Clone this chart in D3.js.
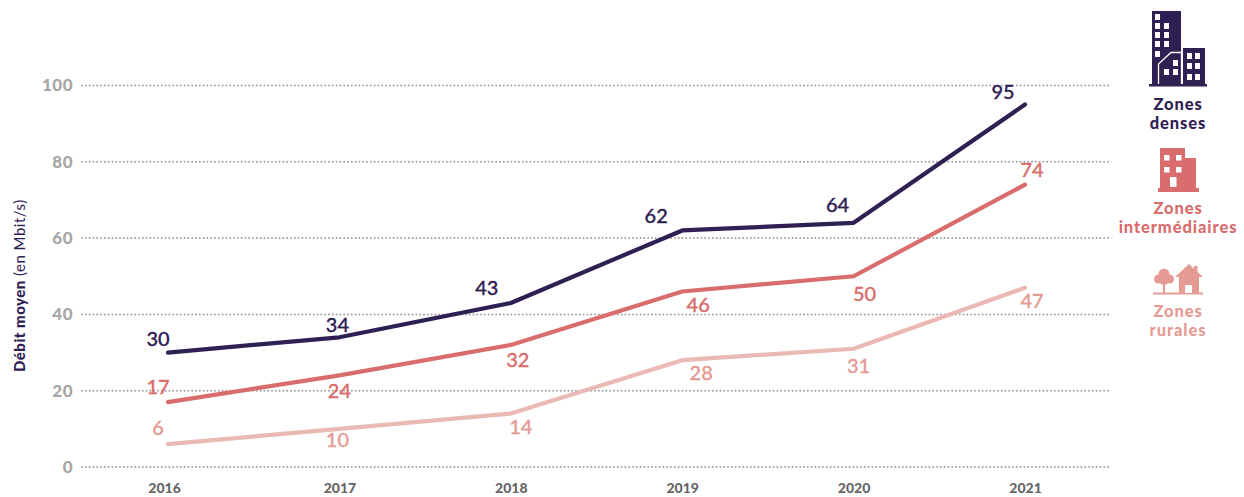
<!DOCTYPE html>
<html>
<head>
<meta charset="utf-8">
<script src="https://cdn.jsdelivr.net/npm/d3@7"></script>
<style>
  body { margin: 0; background: #fff; }
  svg { display: block; }
  text { font-family: Lato, sans-serif; }
</style>
</head>
<body>
<div class="chart"></div>
<script>
const years = [2016, 2017, 2018, 2019, 2020, 2021];
const yTicks = [0, 20, 40, 60, 80, 100];
const denses = [30, 34, 43, 62, 64, 95];
const intermediaires = [17, 24, 32, 46, 50, 74];
const rurales = [6, 10, 14, 28, 31, 47];

const dark = '#2f2053', red = '#d96c6c', pink = '#ebb9b3', pinkText = '#e59b94', grey = '#a6a6a6';

// label offsets from the line point, one per year
const denseOffsets = [[-10, -14.5], [-2, -13.5], [-24, -15.5], [-26, -15.5], [-16, -18.5], [-22, -13.5]];
const interOffsets = [[-10, -16.5], [0, 14.5], [7, 14.5], [16, 12.5], [11, 16.5], [7, -15.5]];
const ruralOffsets = [[-10, -17.5], [-2, 10.5], [10, 12.5], [19, 11.5], [5, 16.5], [7, 12.5]];

const width = 1244, height = 497;
let svg = d3.select('.chart')
    .append('svg')
        .attr('width', width)
        .attr('height', height);

let xScale = d3.scalePoint().domain(years).range([168, 1025]);
let yScale = d3.scaleLinear().domain([0, 100]).range([467, 85.5]);

// grid
svg.selectAll('.grid')
    .data(yTicks)
    .enter().append('line')
        .attr('x1', 82)
        .attr('x2', 1111)
        .attr('y1', d => yScale(d))
        .attr('y2', d => yScale(d))
        .style('stroke', '#a0a0a0')
        .style('stroke-width', 2)
        .style('stroke-linecap', 'round')
        .style('stroke-dasharray', '0 3.8');

// axes
let yAxis = d3.axisLeft(yScale).tickValues(yTicks).tickSize(0).tickPadding(0);
svg.append('g')
    .attr('transform', 'translate(73, 0)')
    .call(yAxis)
    .call(g => g.select('.domain').remove())
    .selectAll('text')
        .style('font-family', 'Lato')
        .style('font-size', '17px')
        .style('font-weight', 900)
        .style('fill', grey)
        .style('letter-spacing', '0.5px');

let xAxis = d3.axisBottom(xScale).tickFormat(d3.format('d')).tickSize(0).tickPadding(0);
svg.append('g')
    .attr('transform', 'translate(0, 483)')
    .call(xAxis)
    .call(g => g.select('.domain').remove())
    .selectAll('text')
        .attr('dx', d => d === 2016 ? -4 : 0)
        .style('font-family', 'Lato')
        .style('font-size', '14px')
        .style('font-weight', 900)
        .style('fill', '#666666');

// y title
let yTitle = svg.append('text')
    .attr('transform', 'translate(25, 372) rotate(-90)')
    .style('font-size', '15px')
    .style('letter-spacing', '0.5px')
    .style('fill', dark);
yTitle.append('tspan').style('font-weight', 900).text('Débit moyen ');
yTitle.append('tspan').text('(en Mbit/s)');

// lines and labels
let line = d3.line()
    .x((d, i) => xScale(years[i]))
    .y(d => yScale(d));

function drawSeries(values, offsets, color, labelColor) {
    svg.append('path')
        .datum(values)
        .attr('d', line)
        .style('fill', 'none')
        .style('stroke', color)
        .style('stroke-width', 4.2)
        .style('stroke-linecap', 'round')
        .style('stroke-linejoin', 'round');
    svg.selectAll(null)
        .data(values)
        .enter().append('text')
            .attr('x', (d, i) => xScale(years[i]) + offsets[i][0])
            .attr('y', (d, i) => yScale(d) + offsets[i][1])
            .attr('text-anchor', 'middle')
            .attr('dominant-baseline', 'central')
            .style('font-size', '20px')
            .style('font-weight', 500)
            .style('fill', labelColor)
            .style('stroke', labelColor)
            .style('stroke-width', 0.3)
            .text(d => d);
}
drawSeries(rurales, ruralOffsets, pink, pinkText);
drawSeries(intermediaires, interOffsets, red, red);
drawSeries(denses, denseOffsets, dark, dark);

// legend text
function legendText(lines, cx, y0, color) {
    lines.forEach((t, i) => {
        svg.append('text')
            .attr('x', cx)
            .attr('y', y0 + i * 19)
            .attr('text-anchor', 'middle')
            .style('font-size', '16.5px')
            .style('font-weight', 900)
            .style('letter-spacing', '0.9px')
            .style('fill', color)
            .text(t);
    });
}
legendText(['Zones', 'denses'], 1178, 110, dark);
legendText(['Zones', 'intermédiaires'], 1178, 214, red);
legendText(['Zones', 'rurales'], 1178, 317, pinkText);

function rects(g, list, fill) {
    g.selectAll(null).data(list).enter().append('rect')
        .attr('x', d => d[0]).attr('y', d => d[1])
        .attr('width', d => d[2]).attr('height', d => d[3])
        .style('fill', fill);
}

// dense icon
let denseIcon = svg.append('g');
rects(denseIcon, [[1152, 11, 29, 73], [1183, 48, 22, 36], [1149, 84, 58, 2.5]], dark);
rects(denseIcon, [
    [1155, 14, 5, 6], [1155, 23, 5, 6], [1155, 32, 5, 6], [1155, 41, 5, 6], [1155, 51, 5, 6],
    [1164, 23, 5, 6], [1164, 32, 5, 6], [1164, 41, 5, 6],
    [1173, 60, 5, 6], [1173, 69, 5, 6], [1164, 69, 5, 6],
    [1187, 53, 5, 6], [1195, 53, 5, 6], [1187, 63, 5, 6], [1195, 63, 5, 6], [1187, 74, 5, 6], [1195, 74, 5, 6]
], '#fff');
denseIcon.append('path')
    .attr('d', 'M1158.5 84V64L1171 52.5H1181.5V84')
    .style('fill', 'none')
    .style('stroke', '#fff')
    .style('stroke-width', 1.3);

// intermediate icon
let interIcon = svg.append('g');
rects(interIcon, [[1160, 148, 25, 42], [1185, 158, 11, 32], [1158, 188, 41, 4]], red);
rects(interIcon, [
    [1164, 155, 5.5, 5.5], [1176, 155, 5.5, 5.5], [1164, 167, 5.5, 5.5], [1176, 167, 5.5, 5.5], [1170, 177, 6.5, 10]
], '#fff');

// rural icon
let ruralIcon = svg.append('g');
rects(ruralIcon, [[1153, 292.5, 50, 2], [1163, 280, 2, 13], [1179, 276, 20, 17], [1194, 266, 3.5, 8]], pinkText);
rects(ruralIcon, [[1185, 285, 7, 8]], '#fff');
ruralIcon.append('path')
    .attr('d', 'M1175 277L1189 264L1203 277Z')
    .style('fill', pinkText);
ruralIcon.selectAll(null)
    .data([[1164, 274, 5.5], [1158.5, 279, 4.5], [1169.5, 279, 4.5], [1164, 280, 5]])
    .enter().append('circle')
        .attr('cx', d => d[0]).attr('cy', d => d[1]).attr('r', d => d[2])
        .style('fill', pinkText);
</script>
</body>
</html>
